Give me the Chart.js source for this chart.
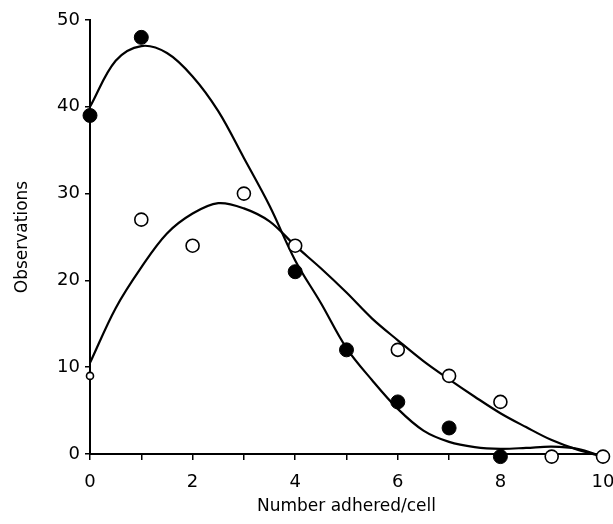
<!DOCTYPE html>
<html>
<head>
<meta charset="utf-8">
<style>
html,body{margin:0;padding:0;background:#fff;}
#wrap{width:613px;height:524px;position:relative;}
</style>
<script src="https://cdn.jsdelivr.net/npm/chart.js@4/dist/chart.umd.min.js"></script>
</head>
<body>
<div id="wrap"><canvas id="c"></canvas></div>
<script>
// Observed counts (x = number adhered per cell)
const counts      = [0, 1, 2, 3, 4, 5, 6, 7, 8, 9, 10];
const filledObs   = [39, 48, null, null, 21, 12, 6, 3, -0.3, null, null];
const openObs     = [9, 27, 24, 30, 24, null, 12, 9, 6, -0.3, -0.3];
const openRadius  = [3.5, 6.5, 6.5, 6.5, 6.5, 6.5, 6.5, 6.5, 6.5, 6.5, 6.5];

// Fitted curves at half-unit steps
const curveX    = [0, 0.5, 1, 1.5, 2, 2.5, 3, 3.5, 4, 4.5, 5, 5.5, 6, 6.5, 7, 7.5, 8, 8.5, 9, 9.5, 10];
const filledFit = [40, 45.3, 47.0, 46.2, 43.5, 39.5, 34.1, 28.6, 22.3, 17.4, 12.2, 8.5, 5.2, 2.7, 1.4, 0.8, 0.6, 0.7, 0.85, 0.6, -0.3];
const openFit   = [10.5, 16.8, 21.5, 25.4, 27.7, 28.9, 28.3, 26.8, 24.0, 21.4, 18.6, 15.6, 13.1, 10.7, 8.6, 6.6, 4.7, 3.1, 1.6, 0.5, -0.3];

const xTitle = 'Number adhered/cell';
const yTitle = 'Observations';
const xMin = 0, xMax = 10, yMin = 0, yMax = 50;

const pts = (xs, ys) => xs.map((x, i) => ({x: x, y: ys[i]})).filter(p => p.y !== null);

const FONT = "'DejaVu Sans', sans-serif";

new Chart(document.getElementById('c'), {
  type: 'scatter',
  data: {
    datasets: [
      {
        label: 'filled',
        data: pts(counts, filledObs),
        pointRadius: 7,
        pointBackgroundColor: '#000',
        pointBorderColor: '#000',
        pointBorderWidth: 1,
        showLine: false,
        order: 0
      },
      {
        label: 'open',
        data: pts(counts, openObs),
        pointRadius: counts.filter((c, i) => openObs[i] !== null).map(c => openRadius[c]),
        pointBackgroundColor: '#fff',
        pointBorderColor: '#000',
        pointBorderWidth: 1.6,
        showLine: false,
        order: 0
      },
      {
        label: 'filled fit',
        data: pts(curveX, filledFit),
        showLine: true,
        pointRadius: 0,
        borderColor: '#000',
        borderWidth: 2.2,
        tension: 0.35,
        fill: false,
        order: 1
      },
      {
        label: 'open fit',
        data: pts(curveX, openFit),
        showLine: true,
        pointRadius: 0,
        borderColor: '#000',
        borderWidth: 2.2,
        tension: 0.35,
        fill: false,
        order: 1
      }
    ]
  },
  options: {
    responsive: true,
    maintainAspectRatio: false,
    animation: false,
    clip: false,
    layout: { padding: { left: 0, right: 10, top: 20, bottom: 0 } },
    plugins: { legend: { display: false }, tooltip: { enabled: false } },
    scales: {
      x: {
        type: 'linear',
        min: xMin, max: xMax,
        afterFit: s => { s.height = 70; s.paddingLeft = 0; s.paddingRight = 0; },
        ticks: {
          stepSize: 1,
          autoSkip: false,
          maxRotation: 0,
          padding: 12,
          color: '#000',
          font: { family: FONT, size: 18 },
          callback: v => (v % 2 === 0 ? String(v) : '')
        },
        grid: { drawOnChartArea: false, drawTicks: true, tickLength: 6, color: '#000', lineWidth: 1.5 },
        border: { display: true, color: '#000', width: 2 },
        title: {
          display: true,
          text: xTitle,
          color: '#000',
          font: { family: FONT, size: 17 },
          padding: { top: 4, bottom: 7 }
        }
      },
      y: {
        type: 'linear',
        min: yMin, max: yMax,
        afterFit: s => { s.width = 90; s.paddingTop = 0; s.paddingBottom = 0; },
        ticks: {
          stepSize: 10,
          padding: 5,
          color: '#000',
          font: { family: FONT, size: 18 }
        },
        grid: { drawOnChartArea: false, drawTicks: true, tickLength: 5, color: '#000', lineWidth: 1.5 },
        border: { display: true, color: '#000', width: 2 },
        title: {
          display: true,
          text: yTitle,
          color: '#000',
          font: { family: FONT, size: 17 },
          padding: { top: 12, bottom: 0 }
        }
      }
    }
  }
});
</script>
</body>
</html>
